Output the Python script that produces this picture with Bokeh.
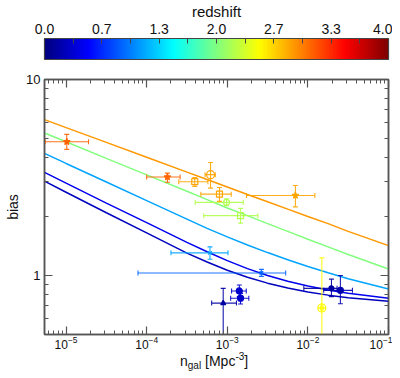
import math
from bokeh.plotting import figure
from bokeh.layouts import column
from bokeh.models import (ColumnDataSource, LogAxis, FixedTicker, ColorBar, Range1d, Div,
                          LinearColorMapper, PrintfTickFormatter, CustomJSTickFormatter)
from bokeh.transform import transform
from bokeh.embed import file_html
from bokeh.resources import INLINE

FONT = "Liberation Sans"

# ---------------- data ----------------
z_low, z_high = 0.0, 4.0
cbar_ticks = [0.0, 0.6667, 1.3333, 2.0, 2.6667, 3.3333, 4.0]
cbar_minor = [0.3333, 1.0, 1.6667, 2.3333, 3.0, 3.6667]

x_major = [1e-5, 1e-4, 1e-3, 1e-2, 1e-1]
y_major = [1, 10]

# model curves b(n_gal) at several redshifts
curve_n = [5.4e-6, 1e-5, 3.16e-5, 1e-4, 3.16e-4, 5.62e-4, 1e-3, 1.78e-3, 3.16e-3,
           5.62e-3, 1e-2, 1.78e-2, 3.16e-2, 1e-1]
curve_z = [2.9, 2.0, 1.15, 0.45, 0.25]
bias_z29 = [6.24, 5.68, 4.78, 4.01, 3.37, 3.09, 2.83, 2.59, 2.38, 2.18, 2.00, 1.84, 1.68, 1.42]
bias_z20 = [5.33, 4.81, 3.96, 3.26, 2.69, 2.44, 2.21, 2.02, 1.84, 1.68, 1.53, 1.40, 1.28, 1.08]
bias_z115 = [4.20, 3.73, 3.00, 2.41, 1.94, 1.74, 1.574, 1.432, 1.309, 1.204, 1.112, 1.032,
             0.963, 0.853]
bias_z045 = [3.36, 2.96, 2.34, 1.86, 1.476, 1.321, 1.191, 1.084, 1.000, 0.935, 0.884, 0.844,
             0.812, 0.766]
bias_z025 = [3.03, 2.66, 2.09, 1.65, 1.30, 1.172, 1.064, 0.980, 0.914, 0.863, 0.824, 0.794,
             0.771, 0.738]

# measurements
pt_n = [1.02e-5, 1.81e-4, 3.95e-4, 6.2e-4, 8.0e-4, 9.8e-4, 1.46e-3, 7.0e-3,
        6.1e-4, 2.65e-3, 8.9e-4, 1.41e-3, 1.46e-3, 1.96e-2, 2.53e-2, 1.49e-2]
pt_n_lo = [5.5e-6, 1.0e-4, 2.5e-4, 5.3e-4, 4.7e-4, 4.0e-4, 5.1e-4, 1.73e-3,
           2.0e-4, 7.8e-5, 6.4e-4, 1.13e-3, 1.1e-3, 8.9e-3, 1.57e-2, 1.43e-2]
pt_n_hi = [1.9e-5, 2.6e-4, 5.75e-4, 7.1e-4, 1.12e-3, 1.58e-3, 2.4e-3, 1.22e-2,
           1.02e-3, 5.3e-3, 1.3e-3, 1.72e-3, 1.85e-3, 2.3e-2, 3.57e-2, 1.55e-2]
pt_b = [4.81, 3.18, 3.01, 3.27, 2.60, 2.36, 2.02, 2.56,
        1.305, 1.03, 0.723, 0.834, 0.766, 0.86, 0.84, 0.683]
pt_b_lo = [4.40, 2.99, 2.85, 2.79, 2.39, 2.27, 1.85, 2.24,
           1.21, 0.99, 0.40, 0.78, 0.715, 0.78, 0.718, 0.40]
pt_b_hi = [5.25, 3.33, 3.16, 3.77, 2.81, 2.46, 2.20, 2.88,
           1.40, 1.075, 0.86, 0.894, 0.81, 0.958, 1.0, 1.23]
pt_z = [3.1, 3.1, 2.85, 2.85, 2.85, 2.2, 2.2, 2.85,
        1.15, 0.9, 0.15, 0.3, 0.3, 0.15, 0.2, 2.5]

# marker styles (not data)
pt_marker = ["star", "star", "square", "circle", "square", "circle", "square", "star",
             "x", "x", "triangle", "circle", "circle", "circle", "circle", "circle_cross"]
pt_fill = [1, 1, 0, 0, 0, 0, 0, 1, 0, 0, 1, 1, 1, 1, 1, 0]
pt_size = [7, 7, 6, 8, 6, 6, 6, 7, 5, 5, 5, 6, 6, 5, 6, 8]


# ---------------- jet colormap ----------------
def jet_hex(t):
    r = min(max(1.5 - abs(4 * t - 3), 0), 1)
    g = min(max(1.5 - abs(4 * t - 2), 0), 1)
    b = min(max(1.5 - abs(4 * t - 1), 0), 1)
    return "#%02x%02x%02x" % (int(r * 255), int(g * 255), int(b * 255))


jet = [jet_hex(i / 255) for i in range(256)]
mapper = LinearColorMapper(palette=jet, low=z_low, high=z_high)

# ---------------- main figure ----------------
p = figure(width=392, height=352, x_axis_type="log", y_axis_type="log",
           x_range=Range1d(5.4e-6, 0.1), y_range=Range1d(0.5, 10),
           output_backend="svg", toolbar_location=None,
           min_border_left=44, min_border_right=4, min_border_top=78, min_border_bottom=18)
p.xgrid.visible = False
p.ygrid.visible = False
p.outline_line_color = "#555555"
p.outline_line_width = 1.5

x_minor = [m * 10.0 ** e for e in range(-6, -1) for m in range(2, 10)]
y_minor = [0.5, 0.6, 0.7, 0.8, 0.9] + [float(m) for m in range(2, 10)]


def style_axis(ax, major, minor, labels=True):
    ax.ticker = FixedTicker(ticks=major, minor_ticks=minor)
    ax.axis_line_color = "#555555"
    ax.axis_line_width = 1.5
    ax.major_tick_in = 8
    ax.major_tick_out = 0
    ax.minor_tick_in = 4
    ax.minor_tick_out = 0
    ax.major_tick_line_color = "#555555"
    ax.minor_tick_line_color = "#555555"
    ax.major_tick_line_width = 1.2
    ax.minor_tick_line_width = 1.0
    ax.major_label_text_font = FONT
    ax.major_label_text_font_size = "13px"
    ax.major_label_text_color = "#111111"
    if not labels:
        ax.formatter = CustomJSTickFormatter(code="return ' '")
        ax.major_label_standoff = 0
        ax.major_label_text_font_size = "4px"


style_axis(p.xaxis[0], x_major, x_minor)
p.xaxis[0].major_label_standoff = 1
p.xaxis[0].major_label_text_font_size = "12px"
style_axis(p.yaxis[0], y_major, y_minor)
p.yaxis[0].formatter = CustomJSTickFormatter(code="return Math.round(tick).toString()")
p.yaxis[0].major_label_standoff = 4
p.yaxis[0].axis_label = "bias"
p.yaxis[0].axis_label_text_font = FONT
p.yaxis[0].axis_label_text_font_size = "14px"
p.yaxis[0].axis_label_text_font_style = "normal"
p.yaxis[0].axis_label_text_color = "#111111"
p.yaxis[0].axis_label_standoff = 2

right_ax = LogAxis()
style_axis(right_ax, y_major, y_minor, labels=False)
p.add_layout(right_ax, "right")
top_ax = LogAxis()
style_axis(top_ax, x_major, x_minor, labels=False)
top_ax.major_label_standoff = 12
p.add_layout(top_ax, "above")

# colour bar
cb = ColorBar(color_mapper=mapper, orientation="horizontal", height=21, padding=0,
              ticker=FixedTicker(ticks=cbar_ticks, minor_ticks=cbar_minor),
              formatter=PrintfTickFormatter(format="%.1f"),
              major_label_text_font=FONT, major_label_text_font_size="14px",
              major_label_text_color="#111111", label_standoff=5,
              major_tick_in=5, major_tick_out=0, minor_tick_in=5, minor_tick_out=0,
              major_tick_line_color="#444444", minor_tick_line_color="#444444",
              bar_line_color="#444444", bar_line_width=1.2,
              background_fill_color=None)
p.add_layout(cb, "above")

p.title.text = "redshift"
p.title.align = "center"
p.title.text_font = FONT
p.title.text_font_size = "15px"
p.title.text_font_style = "normal"
p.title.text_color = "#111111"
p.title.standoff = 1

# model curves
curve_src = ColumnDataSource(dict(xs=[curve_n] * 5,
                                  ys=[bias_z29, bias_z20, bias_z115, bias_z045, bias_z025],
                                  z=curve_z))
p.multi_line("xs", "ys", source=curve_src, line_color=transform("z", mapper), line_width=1.5)

# measurements with error bars
src = ColumnDataSource(dict(n=pt_n, nlo=pt_n_lo, nhi=pt_n_hi, b=pt_b, blo=pt_b_lo,
                            bhi=pt_b_hi, z=pt_z, marker=pt_marker, fa=pt_fill, size=pt_size))
col = transform("z", mapper)
eb = dict(source=src, line_color=col, line_width=1.1, line_alpha=0.9)
p.segment(x0="nlo", y0="b", x1="nhi", y1="b", **eb)
p.segment(x0="n", y0="blo", x1="n", y1="bhi", **eb)
for xf in ("nlo", "nhi"):
    p.scatter(x=xf, y="b", marker="dash", angle=math.pi / 2, size=5, **eb)
for yf in ("blo", "bhi"):
    p.scatter(x="n", y=yf, marker="dash", size=5, **eb)
p.scatter(x="n", y="b", source=src, marker="marker", size="size", line_color=col,
          fill_color=col, fill_alpha="fa", line_width=1.2)

# ---------------- x-axis title (HTML, with sub/superscript) ----------------
xtitle = Div(
    text=('<div style="font-family:\'Liberation Sans\';font-size:14px;line-height:16px;'
          'color:#111111;padding-left:180px;padding-top:1px;white-space:nowrap;">'
          'n<span style="font-size:10px;position:relative;top:3px;">gal</span>'
          ' [Mpc<span style="font-size:10px;position:relative;top:-6px;">-3</span>]'
          '</div>'),
    width=392, height=18, margin=(0, 0, 0, 0))

layout = column(p, xtitle, spacing=0)
open("out.html", "w").write(file_html(layout, INLINE))
